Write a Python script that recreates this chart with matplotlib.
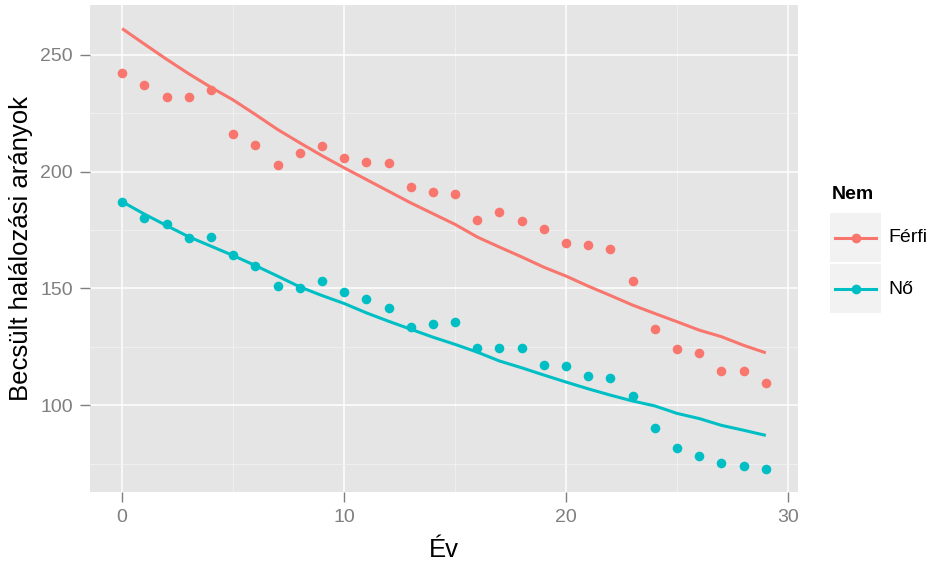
import matplotlib
matplotlib.use('Agg')
import matplotlib.pyplot as plt
from matplotlib.lines import Line2D
from matplotlib.patches import Rectangle
from matplotlib.ticker import MultipleLocator

plt.rcParams['font.family'] = ['Liberation Sans', 'DejaVu Sans']

# data
years = list(range(30))
ferfi_obs = [242, 237, 232, 232, 235, 216, 211.5, 203, 208, 211,
             205.8, 204.1, 203.7, 193.5, 191.3, 190.5, 179.1, 182.6, 179, 175.5,
             169.5, 168.8, 166.7, 153, 132.8, 124, 122.5, 114.7, 114.7, 109.4]
no_obs = [187.1, 180.2, 177.6, 171.7, 172, 164.5, 159.5, 151, 150.1, 153.1,
          148.6, 145.7, 141.5, 133.6, 135, 135.6, 124.7, 124.7, 124.7, 117.5,
          116.8, 112.5, 111.8, 104, 90.4, 81.9, 78.3, 75.5, 74.1, 72.8]
ferfi_fit = [261.1, 254.5, 248, 241.8, 236, 230.6, 224.4, 218, 212.3, 206.8,
             201.6, 196.6, 191.6, 186.6, 182, 177.4, 172, 167.7, 163.5, 159.1,
             155.3, 151, 147, 142.9, 139.3, 135.8, 132.2, 129.4, 125.7, 122.5]
no_fit = [187.1, 181.8, 176.9, 172.1, 168.1, 164.1, 159.8, 155.3, 150.7, 147,
          143.6, 139.6, 136, 132.6, 129.2, 126.1, 122.8, 119, 116.1, 113,
          110, 107.1, 104.4, 101.9, 99.8, 96.6, 94.4, 91.5, 89.4, 87.2]

groups = ['Férfi', 'Nő']
colors = ['#F8766D', '#00BFC4']

fig = plt.figure(figsize=(9.36, 5.72), dpi=100)
ax = fig.add_axes([90/936, 80/572, 708/936, 487/572])
ax.set_facecolor('#E5E5E5')

for obs, fit, col in [(ferfi_obs, ferfi_fit, colors[0]), (no_obs, no_fit, colors[1])]:
    ax.plot(years, fit, color=col, linewidth=2.2, zorder=3, solid_capstyle='butt')
    ax.scatter(years, obs, s=48, color=col, zorder=4, linewidths=0)

# ggplot-like expansion
ax.set_xlim(-1.45, 30.45)
ax.set_ylim(63.0, 271.2)

ax.xaxis.set_major_locator(MultipleLocator(10))
ax.xaxis.set_minor_locator(MultipleLocator(5))
ax.yaxis.set_major_locator(MultipleLocator(50))
ax.yaxis.set_minor_locator(MultipleLocator(25))
ax.grid(which='major', color='white', linewidth=1.1)
ax.grid(which='minor', color='#F2F2F2', linewidth=0.6)
ax.set_axisbelow(True)
for s in ax.spines.values():
    s.set_visible(False)
ax.tick_params(which='major', length=7, width=1, color='#7F7F7F',
               labelcolor='#7F7F7F', labelsize=14)
ax.tick_params(axis='y', which='major', pad=5.5)
ax.tick_params(axis='x', which='major', pad=5)
ax.tick_params(which='minor', length=0)

ax.set_xlabel('Év', fontsize=18.5, labelpad=9)
ax.set_ylabel('Becsült halálozási arányok', fontsize=18.5, labelpad=5)

# legend drawn by hand in pixel coordinates
def px(x, y):
    return x / 936, 1 - y / 572

fig.text(*px(832, 195), 'Nem', fontsize=14, fontweight='bold', va='center', ha='left')
for i, (lab, col) in enumerate(zip(groups, colors)):
    top = 213 + i * 51
    x0, y0 = px(830, top + 49)
    fig.add_artist(Rectangle((x0, y0), 51 / 936, 49 / 572, transform=fig.transFigure,
                             facecolor='#F2F2F2', edgecolor='none'))
    xm, ym = px(855.5, top + 24.5)
    xa, _ = px(835, 0)
    xb, _ = px(876, 0)
    fig.add_artist(Line2D([xa, xb], [ym, ym], transform=fig.transFigure,
                          color=col, linewidth=2.2))
    fig.add_artist(Line2D([xm], [ym], transform=fig.transFigure, color=col,
                          marker='o', markersize=7, markeredgewidth=0))
    fig.text(*px(888, top + 25), lab, fontsize=14, va='center', ha='left')

fig.savefig('out.png', dpi=100)
